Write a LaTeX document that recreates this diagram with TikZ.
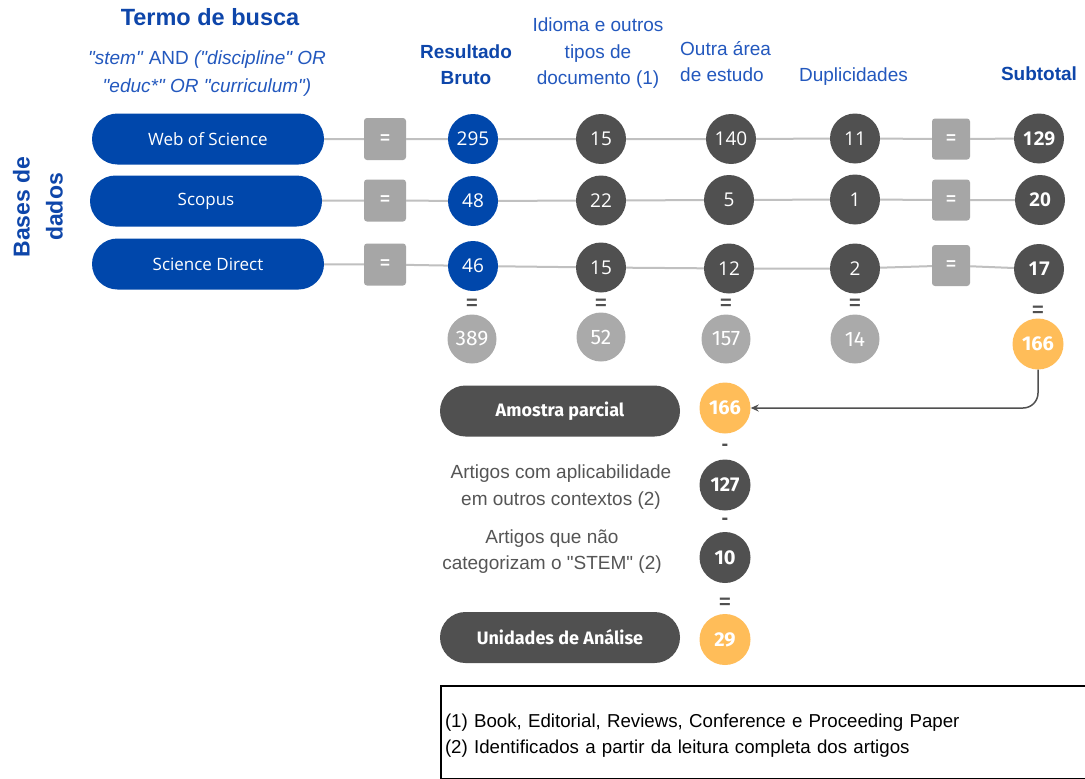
\documentclass[tikz,border=0pt]{standalone}
\usepackage{fontspec}
\setmainfont{Liberation Sans}[Ligatures=TeXOff]
\newfontfamily\osans{Open Sans}
\newfontfamily\fira{Fira Sans}
\usetikzlibrary{arrows.meta}
\definecolor{dbblue}{RGB}{0,71,171}
\definecolor{hblue}{RGB}{14,70,170}
\definecolor{lblue}{RGB}{35,88,190}
\definecolor{dgray}{RGB}{80,80,80}
\definecolor{mgray}{RGB}{166,166,166}
\definecolor{lgray}{RGB}{170,170,170}
\definecolor{orng}{RGB}{255,189,89}
\definecolor{lineg}{RGB}{192,192,192}
\definecolor{txtg}{RGB}{85,85,85}
\begin{document}
\begin{tikzpicture}[x=1pt,y=-1pt,
  pill/.style={rectangle, rounded corners=25.5pt, minimum width=232pt, minimum height=51pt, fill=dbblue, text=white, inner sep=0pt, font=\osans\fontsize{17}{20}\selectfont},
  dpill/.style={rectangle, rounded corners=25.5pt, minimum width=240pt, minimum height=51pt, fill=dgray, text=white, inner sep=0pt, font=\fira\bfseries\fontsize{18}{20}\selectfont},
  eqbox/.style={rectangle, rounded corners=3pt, fill=mgray, minimum width=42pt, minimum height=42pt, text=white, inner sep=0pt, font=\bfseries\fontsize{17}{20}\selectfont},
  eqboxb/.style={eqbox, minimum width=38pt, minimum height=41pt},
  bcirc/.style={circle, fill=dbblue, minimum size=50pt, inner sep=0pt, text=white, font=\osans\fontsize{19}{22}\selectfont},
  dcirc/.style={bcirc, fill=dgray},
  scirc/.style={bcirc, fill=dgray, font=\osans\bfseries\fontsize{19}{22}\selectfont},
  gcirc/.style={circle, fill=lgray, minimum size=49pt, inner sep=0pt, text=white, font=\fira\fontsize{21}{24}\selectfont},
  ocirc/.style={circle, fill=orng, minimum size=51pt, inner sep=0pt, text=white, font=\fira\bfseries\fontsize{20}{24}\selectfont},
  pcirc/.style={ocirc, fill=dgray},
  eqsign/.style={inner sep=0pt, text=dgray, font=\bfseries\fontsize{20}{22}\selectfont},
  hbold/.style={inner sep=0pt, align=center, text=hblue, font=\bfseries\fontsize{19}{26.3}\selectfont},
  hreg/.style={inner sep=0pt, align=center, text=lblue, font=\fontsize{19}{26.5}\selectfont},
  lowtext/.style={inner sep=0pt, align=center, text=txtg, font=\fontsize{19}{26.5}\selectfont},
  conn/.style={draw=lineg, line width=2pt},
  arrowline/.style={draw=dgray, line width=1.5pt, rounded corners=15pt, -{Stealth[length=8pt,width=7pt]}}
]
\path[use as bounding box, fill=white] (0,0) rectangle (1085,779);

% headers
\node[hbold, font=\bfseries\fontsize{23.5}{28}\selectfont] (termo) at (210,17) {Termo de busca};
\node[inner sep=0pt, align=center, text=lblue, font=\fontsize{19}{28}\selectfont] (query) at (207,73.5)
  {\textit{"stem"} AND \textit{("discipline" OR}\\\textit{"educ*" OR "curriculum")}};
\node[hbold] (res) at (466,65) {Resultado\\Bruto};
\node[hreg] (idi) at (598,53.5) {Idioma e outros\\tipos de\\documento (1)};
\node[hreg, anchor=west, align=left] (outra) at (680,61.5) {Outra área\\de estudo};
\node[hreg] (dup) at (853.5,76.5) {Duplicidades};
\node[hbold] (subt) at (1039,74) {Subtotal};
\node[hbold, font=\bfseries\fontsize{23}{33}\selectfont, rotate=90] (bases) at (38,207) {Bases de\\dados};

% rows
\node[pill] (wos) at (208,139) {Web of Science};
\node[pill] (sco) at (206,201) {Scopus};
\node[pill] (sd) at (208,264) {Science Direct};
\node[eqbox] (qa1) at (385,139) {=};
\node[eqbox] (qa2) at (385,200.5) {=};
\node[eqbox] (qa3) at (385,264.5) {=};
\node[bcirc] (b1) at (473,139) {295};
\node[bcirc] (b2) at (473,201) {48};
\node[bcirc] (b3) at (473,266) {46};
\node[dcirc] (i1) at (601,139) {15};
\node[dcirc] (i2) at (601,200.5) {22};
\node[dcirc] (i3) at (601,267.5) {15};
\node[dcirc] (o1) at (731,139) {140};
\node[dcirc] (o2) at (729,200) {5};
\node[dcirc] (o3) at (729,268.5) {12};
\node[dcirc] (d1) at (855,138.5) {11};
\node[dcirc] (d2) at (855,199.5) {1};
\node[dcirc] (d3) at (855,268.5) {2};
\node[eqboxb] (qb1) at (951,139) {=};
\node[eqboxb] (qb2) at (951,200) {=};
\node[eqboxb] (qb3) at (951,265.5) {=};
\node[scirc] (s1) at (1039,138.5) {129};
\node[scirc] (s2) at (1040,200) {20};
\node[scirc] (s3) at (1039,269) {17};

\draw[conn] (wos) -- (qa1) -- (b1) -- (i1) -- (o1) -- (d1) -- (qb1) -- (s1);
\draw[conn] (sco) -- (qa2) -- (b2) -- (i2) -- (o2) -- (d2) -- (qb2) -- (s2);
\draw[conn] (sd) -- (qa3) -- (b3) -- (i3) -- (o3) -- (d3) -- (qb3) -- (s3);

% totals
\node[eqsign] (e1) at (472,304) {=};
\node[eqsign] (e2) at (601,304) {=};
\node[eqsign] (e3) at (726,304) {=};
\node[eqsign] (e4) at (855,304) {=};
\node[eqsign] (e5) at (1038,311) {=};
\node[gcirc] (t1) at (472,339) {389};
\node[gcirc] (t2) at (601,337) {52};
\node[gcirc] (t3) at (726,339) {157};
\node[gcirc] (t4) at (855,339) {14};
\node[ocirc] (t5) at (1038,344) {166};

% lower part
\node[dpill] (amo) at (560,411) {Amostra parcial};
\node[ocirc] (p1) at (725,408) {166};
\node[eqsign] (m1) at (725,447) {-};
\node[lowtext] (art1) at (561,487) {Artigos com aplicabilidade\\em outros contextos (2)};
\node[pcirc] (p2) at (725,485) {127};
\node[eqsign] (m2) at (725,521) {-};
\node[lowtext] (art2) at (552,551.5) {Artigos que não\\categorizam o "STEM" (2)};
\node[pcirc] (p3) at (725,557.5) {10};
\node[eqsign] (m3) at (725,603) {=};
\node[dpill] (uni) at (560,637.5) {Unidades de Análise};
\node[ocirc] (p4) at (725,639.5) {29};

\draw[arrowline] (t5.south) |- (p1.east);

% notes
\node[draw=black, line width=2pt, anchor=north west, minimum width=660pt, minimum height=93pt,
  text width=652pt, inner xsep=4pt, inner ysep=0pt, align=left, text=black,
  font=\fontsize{18.7}{25.5}\selectfont] (notes) at (440,685)
  {\rule{0pt}{20pt}(1) Book, Editorial, Reviews, Conference e Proceeding Paper\\(2) Identificados a partir da leitura completa dos artigos};
\end{tikzpicture}
\end{document}
